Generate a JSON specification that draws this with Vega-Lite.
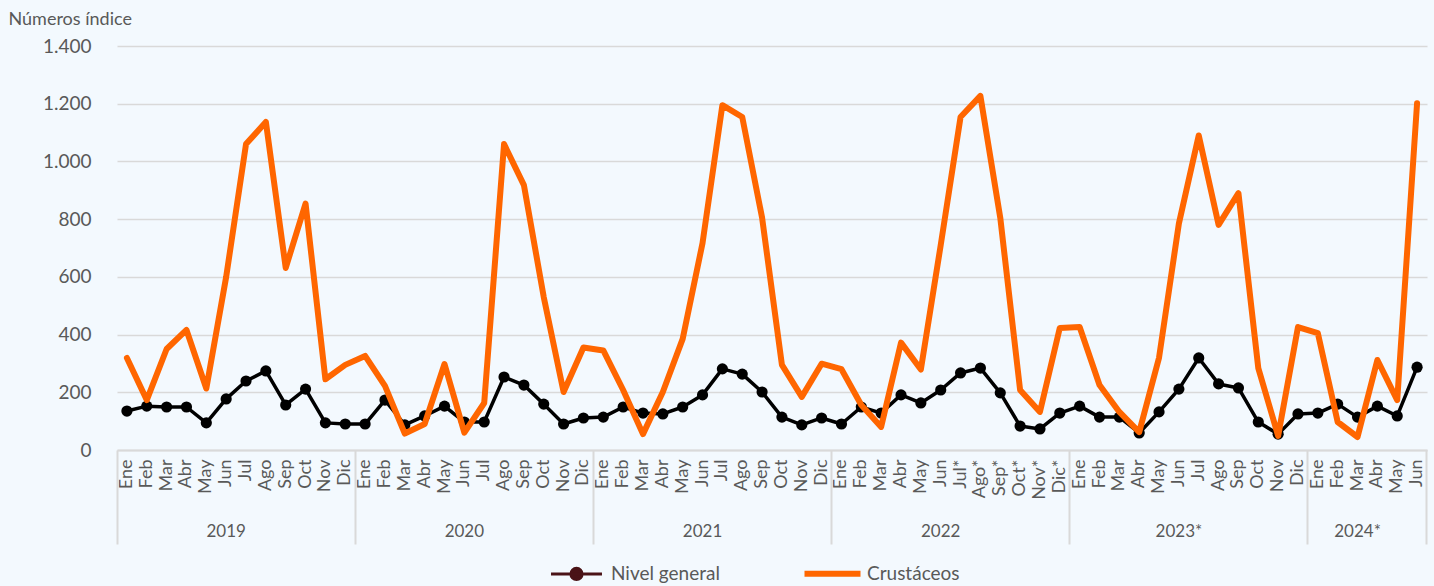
{
  "$schema": "https://vega.github.io/schema/vega-lite/v6.json",
  "width": 1310,
  "height": 404,
  "autosize": {"type": "none"},
  "padding": {"left": 117, "top": 46, "right": 7, "bottom": 136},
  "background": "#F3F9FE",
  "config": {"view": {"stroke": null}, "font": "Lato"},
  "data": {"values": [
    {"periodo": "2019 Ene", "Nivel general": 135, "Crustáceos": 319},
    {"periodo": "2019 Feb", "Nivel general": 152, "Crustáceos": 173},
    {"periodo": "2019 Mar", "Nivel general": 149, "Crustáceos": 350},
    {"periodo": "2019 Abr", "Nivel general": 149, "Crustáceos": 416},
    {"periodo": "2019 May", "Nivel general": 94, "Crustáceos": 213},
    {"periodo": "2019 Jun", "Nivel general": 177, "Crustáceos": 600},
    {"periodo": "2019 Jul", "Nivel general": 239, "Crustáceos": 1060},
    {"periodo": "2019 Ago", "Nivel general": 274, "Crustáceos": 1137},
    {"periodo": "2019 Sep", "Nivel general": 156, "Crustáceos": 631},
    {"periodo": "2019 Oct", "Nivel general": 211, "Crustáceos": 854},
    {"periodo": "2019 Nov", "Nivel general": 94, "Crustáceos": 245},
    {"periodo": "2019 Dic", "Nivel general": 90, "Crustáceos": 295},
    {"periodo": "2020 Ene", "Nivel general": 90, "Crustáceos": 326},
    {"periodo": "2020 Feb", "Nivel general": 173, "Crustáceos": 222},
    {"periodo": "2020 Mar", "Nivel general": 87, "Crustáceos": 57},
    {"periodo": "2020 Abr", "Nivel general": 118, "Crustáceos": 90},
    {"periodo": "2020 May", "Nivel general": 152, "Crustáceos": 298},
    {"periodo": "2020 Jun", "Nivel general": 97, "Crustáceos": 60},
    {"periodo": "2020 Jul", "Nivel general": 97, "Crustáceos": 163},
    {"periodo": "2020 Ago", "Nivel general": 253, "Crustáceos": 1060},
    {"periodo": "2020 Sep", "Nivel general": 225, "Crustáceos": 918},
    {"periodo": "2020 Oct", "Nivel general": 159, "Crustáceos": 530},
    {"periodo": "2020 Nov", "Nivel general": 90, "Crustáceos": 201},
    {"periodo": "2020 Dic", "Nivel general": 111, "Crustáceos": 355},
    {"periodo": "2021 Ene", "Nivel general": 114, "Crustáceos": 345},
    {"periodo": "2021 Feb", "Nivel general": 149, "Crustáceos": 208},
    {"periodo": "2021 Mar", "Nivel general": 128, "Crustáceos": 55},
    {"periodo": "2021 Abr", "Nivel general": 125, "Crustáceos": 201},
    {"periodo": "2021 May", "Nivel general": 149, "Crustáceos": 385},
    {"periodo": "2021 Jun", "Nivel general": 191, "Crustáceos": 717},
    {"periodo": "2021 Jul", "Nivel general": 281, "Crustáceos": 1195},
    {"periodo": "2021 Ago", "Nivel general": 263, "Crustáceos": 1154},
    {"periodo": "2021 Sep", "Nivel general": 201, "Crustáceos": 805},
    {"periodo": "2021 Oct", "Nivel general": 114, "Crustáceos": 295},
    {"periodo": "2021 Nov", "Nivel general": 87, "Crustáceos": 184},
    {"periodo": "2021 Dic", "Nivel general": 111, "Crustáceos": 299},
    {"periodo": "2022 Ene", "Nivel general": 90, "Crustáceos": 280},
    {"periodo": "2022 Feb", "Nivel general": 149, "Crustáceos": 156},
    {"periodo": "2022 Mar", "Nivel general": 128, "Crustáceos": 80},
    {"periodo": "2022 Abr", "Nivel general": 191, "Crustáceos": 372},
    {"periodo": "2022 May", "Nivel general": 163, "Crustáceos": 279},
    {"periodo": "2022 Jun", "Nivel general": 208, "Crustáceos": 710},
    {"periodo": "2022 Jul*", "Nivel general": 267, "Crustáceos": 1154},
    {"periodo": "2022 Ago*", "Nivel general": 284, "Crustáceos": 1227},
    {"periodo": "2022 Sep*", "Nivel general": 198, "Crustáceos": 805},
    {"periodo": "2022 Oct*", "Nivel general": 83, "Crustáceos": 208},
    {"periodo": "2022 Nov*", "Nivel general": 73, "Crustáceos": 132},
    {"periodo": "2022 Dic*", "Nivel general": 128, "Crustáceos": 423},
    {"periodo": "2023* Ene", "Nivel general": 152, "Crustáceos": 426},
    {"periodo": "2023* Feb", "Nivel general": 114, "Crustáceos": 225},
    {"periodo": "2023* Mar", "Nivel general": 114, "Crustáceos": 132},
    {"periodo": "2023* Abr", "Nivel general": 59, "Crustáceos": 62},
    {"periodo": "2023* May", "Nivel general": 132, "Crustáceos": 320},
    {"periodo": "2023* Jun", "Nivel general": 211, "Crustáceos": 785},
    {"periodo": "2023* Jul", "Nivel general": 319, "Crustáceos": 1090},
    {"periodo": "2023* Ago", "Nivel general": 229, "Crustáceos": 780},
    {"periodo": "2023* Sep", "Nivel general": 215, "Crustáceos": 890},
    {"periodo": "2023* Oct", "Nivel general": 97, "Crustáceos": 284},
    {"periodo": "2023* Nov", "Nivel general": 55, "Crustáceos": 49},
    {"periodo": "2023* Dic", "Nivel general": 125, "Crustáceos": 426},
    {"periodo": "2024* Ene", "Nivel general": 128, "Crustáceos": 405},
    {"periodo": "2024* Feb", "Nivel general": 159, "Crustáceos": 97},
    {"periodo": "2024* Mar", "Nivel general": 114, "Crustáceos": 45},
    {"periodo": "2024* Abr", "Nivel general": 152, "Crustáceos": 312},
    {"periodo": "2024* May", "Nivel general": 118, "Crustáceos": 173},
    {"periodo": "2024* Jun", "Nivel general": 287, "Crustáceos": 1202}
  ]},
  "transform": [{"fold": ["Nivel general", "Crustáceos"], "as": ["serie", "valor"]}],
  "encoding": {
    "y": {
      "field": "valor",
      "type": "quantitative",
      "scale": {"domain": [0, 1400], "nice": false, "zero": true},
      "axis": {
        "title": "Números  índice",
        "titleAngle": 0,
        "titleAlign": "left",
        "titleBaseline": "alphabetic",
        "titleX": -109,
        "titleY": -22,
        "titleFont": "Lato",
        "titleFontSize": 18,
        "titleFontWeight": "normal",
        "titleColor": "#595959",
        "values": [0, 200, 400, 600, 800, 1000, 1200, 1400],
        "labelExpr": "replace(format(datum.value, ','), ',', '.')",
        "labelFont": "Lato",
        "labelFontSize": 19,
        "labelColor": "#595959",
        "labelPadding": 26,
        "ticks": false,
        "tickSize": 0,
        "domain": false,
        "grid": true,
        "gridColor": "#d9d9d9",
        "gridWidth": 1.5
      }
    }
  },
  "layer": [
    {
      "transform": [{"filter": "datum.serie === 'Nivel general'"}],
      "mark": {"type": "line", "strokeWidth": 3.5, "strokeJoin": "round", "color": "#000000"},
      "encoding": {
        "x": {
          "field": "periodo", "type": "ordinal", "sort": null,
          "scale": {"type": "band", "paddingInner": 0, "paddingOuter": 0},
          "axis": {
            "orient": "bottom", "title": null, "labelAngle": -90, "labelAlign": "right", "labelBaseline": "middle",
            "labelExpr": "split(datum.value, ' ')[1]",
            "ticks": false, "tickSize": 0, "labelPadding": 9,
            "domain": true, "domainColor": "#d9d9d9", "domainWidth": 2,
            "labelFont": "Lato", "labelFontSize": 18, "labelColor": "#595959",
            "labelOverlap": false, "labelBound": false, "grid": false
          }
        }
      }
    },
    {
      "transform": [{"filter": "datum.serie === 'Nivel general'"}],
      "mark": {"type": "point", "filled": true, "size": 125, "opacity": 1, "color": "#000000"},
      "encoding": {
        "x": {
          "field": "periodo", "type": "ordinal", "sort": null,
          "scale": {"type": "band", "paddingInner": 0, "paddingOuter": 0},
          "axis": {
            "orient": "bottom", "title": null, "labelAngle": 0, "labelAlign": "center", "labelBaseline": "top",
            "values": ["2019 Jun", "2020 Jun", "2021 Jun", "2022 Jun", "2023* Jun", "2024* Mar"],
            "bandPosition": 1,
            "labelExpr": "split(datum.value, ' ')[0]",
            "ticks": false, "tickSize": 0, "domain": false, "labelPadding": 73,
            "labelFont": "Lato", "labelFontSize": 17, "labelColor": "#595959",
            "labelOverlap": false, "labelBound": false, "grid": false
          }
        }
      }
    },
    {
      "transform": [{"filter": "datum.serie === 'Crustáceos'"}],
      "mark": {"type": "line", "strokeWidth": 6, "strokeJoin": "round", "strokeCap": "round"},
      "encoding": {
        "x": {
          "field": "periodo", "type": "ordinal", "sort": null,
          "scale": {"type": "band", "paddingInner": 0, "paddingOuter": 0},
          "axis": {
            "orient": "bottom", "title": null,
            "values": ["2019 Ene", "2020 Ene", "2021 Ene", "2022 Ene", "2023* Ene", "2024* Ene"],
            "bandPosition": 0,
            "labels": false, "domain": false, "ticks": true, "tickSize": 94,
            "tickColor": "#d9d9d9", "tickWidth": 2, "grid": false
          }
        },
        "color": {
          "field": "serie", "type": "nominal",
          "scale": {"domain": ["Nivel general", "Crustáceos"], "range": ["#4a1317", "#FF6600"]},
          "legend": {
            "title": null, "orient": "none", "legendX": 450, "legendY": 518, "direction": "horizontal",
            "symbolType": "stroke", "symbolSize": 3136, "labelFont": "Lato", "labelFontSize": 19,
            "labelColor": "#595959", "labelOffset": 25, "columnPadding": 72, "padding": 0,
            "encode": {
              "symbols": {
                "update": {
                  "shape": {"signal": "datum.value === 'Nivel general' ? 'M-0.91,0H0.91M-0.2,0A0.2,0.2 0 1,0 0.2,0A0.2,0.2 0 1,0 -0.2,0Z' : 'M-1,0H1'"},
                  "fill": {"signal": "datum.value === 'Nivel general' ? '#4a1317' : 'transparent'"},
                  "strokeWidth": {"signal": "datum.value === 'Nivel general' ? 3 : 6"},
                  "opacity": {"value": 1}
                }
              }
            }
          }
        }
      }
    },
    {
      "transform": [{"filter": "datum.serie === 'Crustáceos'"}],
      "mark": {"type": "point", "opacity": 0, "size": 1},
      "encoding": {
        "x": {
          "field": "periodo", "type": "ordinal", "sort": null,
          "scale": {"type": "band", "paddingInner": 0, "paddingOuter": 0},
          "axis": {
            "orient": "bottom", "title": null,
            "values": ["2024* Jun"],
            "bandPosition": 1,
            "labels": false, "domain": false, "ticks": true, "tickSize": 94,
            "tickColor": "#d9d9d9", "tickWidth": 2, "grid": false
          }
        }
      }
    }
  ],
  "resolve": {"axis": {"x": "independent"}}
}
